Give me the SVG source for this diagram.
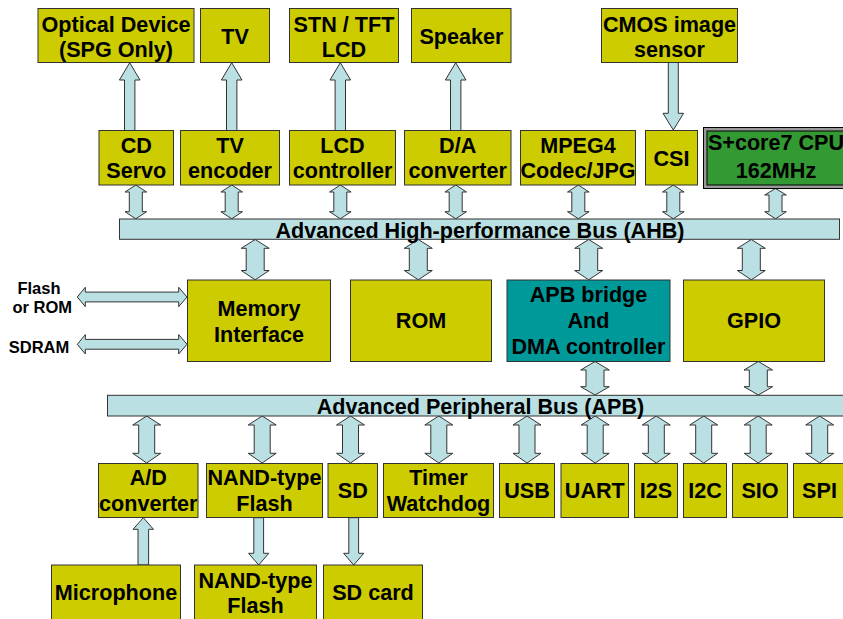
<svg xmlns="http://www.w3.org/2000/svg" width="843" height="619" viewBox="0 0 843 619">
<style>
.b{fill:#CCCC00;stroke:#333;stroke-width:1}
.t{font-family:"Liberation Sans",Arial,sans-serif;font-weight:bold;font-size:21.6px;fill:#000;text-anchor:middle}
.s{font-family:"Liberation Sans",Arial,sans-serif;font-weight:bold;font-size:16.5px;fill:#000;text-anchor:middle}
.bus{fill:#BBE0E3;stroke:#333;stroke-width:1}
.bt{font-family:"Liberation Sans",Arial,sans-serif;font-weight:bold;font-size:21.6px;fill:#000;text-anchor:middle}
.a{fill:#BBE0E3;stroke:#333;stroke-width:1;stroke-linejoin:miter}
</style>
<rect width="843" height="619" fill="#fff"/>

<g id="connectors">
<path class="a" d="M129.7 62.7 L140 80 L134.9 80 L134.9 130.5 L124.5 130.5 L124.5 80 L119.4 80 Z"/>
<path class="a" d="M231.7 62.7 L242 80 L236.9 80 L236.9 130.5 L226.5 130.5 L226.5 80 L221.4 80 Z"/>
<path class="a" d="M340.3 62.7 L350.6 80 L345.5 80 L345.5 130.5 L335.1 130.5 L335.1 80 L330 80 Z"/>
<path class="a" d="M455.7 62.7 L466 80 L460.9 80 L460.9 130.5 L450.5 130.5 L450.5 80 L445.4 80 Z"/>
<path class="a" d="M668.3 62.5 L678.3 62.5 L678.3 113.3 L683.6 113.3 L673.3 130 L663 113.3 L668.3 113.3 Z"/>
<path class="a" d="M135.8 185 L146.6 192 L142.3 192 L142.3 211.7 L146.6 211.7 L135.8 218.8 L125 211.7 L129.3 211.7 L129.3 192 L125 192 Z"/>
<path class="a" d="M231.7 185 L242.5 192 L238.2 192 L238.2 211.7 L242.5 211.7 L231.7 218.8 L220.9 211.7 L225.2 211.7 L225.2 192 L220.9 192 Z"/>
<path class="a" d="M340.3 185 L351.1 192 L346.8 192 L346.8 211.7 L351.1 211.7 L340.3 218.8 L329.5 211.7 L333.8 211.7 L333.8 192 L329.5 192 Z"/>
<path class="a" d="M455.7 185 L466.5 192 L462.2 192 L462.2 211.7 L466.5 211.7 L455.7 218.8 L444.9 211.7 L449.2 211.7 L449.2 192 L444.9 192 Z"/>
<path class="a" d="M578.3 185 L589.1 192 L584.8 192 L584.8 211.7 L589.1 211.7 L578.3 218.8 L567.5 211.7 L571.8 211.7 L571.8 192 L567.5 192 Z"/>
<path class="a" d="M673.3 185 L684.1 192 L679.8 192 L679.8 211.7 L684.1 211.7 L673.3 218.8 L662.5 211.7 L666.8 211.7 L666.8 192 L662.5 192 Z"/>
<path class="a" d="M775.5 188.5 L786.3 195 L782 195 L782 211.7 L786.3 211.7 L775.5 218.8 L764.7 211.7 L769 211.7 L769 195 L764.7 195 Z"/>
<path class="a" d="M255.2 239.5 L269.2 248.3 L264.2 248.3 L264.2 270.5 L269.2 270.5 L255.2 279.8 L241.2 270.5 L246.2 270.5 L246.2 248.3 L241.2 248.3 Z"/>
<path class="a" d="M418.3 239.5 L432.3 248.3 L427.3 248.3 L427.3 270.5 L432.3 270.5 L418.3 279.8 L404.3 270.5 L409.3 270.5 L409.3 248.3 L404.3 248.3 Z"/>
<path class="a" d="M588.7 239.5 L602.7 248.3 L597.7 248.3 L597.7 270.5 L602.7 270.5 L588.7 279.8 L574.7 270.5 L579.7 270.5 L579.7 248.3 L574.7 248.3 Z"/>
<path class="a" d="M751.3 239.5 L765.3 248.3 L760.3 248.3 L760.3 270.5 L765.3 270.5 L751.3 279.8 L737.3 270.5 L742.3 270.5 L742.3 248.3 L737.3 248.3 Z"/>
<path class="a" d="M77.3 297 L85.3 287.3 L85.3 292.1 L178.7 292.1 L178.7 287.3 L187 297 L178.7 306.7 L178.7 301.9 L85.3 301.9 L85.3 306.7 Z"/>
<path class="a" d="M77.3 344.3 L85.3 334.6 L85.3 339.4 L178.7 339.4 L178.7 334.6 L187 344.3 L178.7 354 L178.7 349.2 L85.3 349.2 L85.3 354 Z"/>
<path class="a" d="M595 361.5 L609.3 370 L604 370 L604 386.7 L609.3 386.7 L595 395 L580.7 386.7 L586 386.7 L586 370 L580.7 370 Z"/>
<path class="a" d="M758.3 361.5 L772.6 370 L767.3 370 L767.3 386.7 L772.6 386.7 L758.3 395 L744 386.7 L749.3 386.7 L749.3 370 L744 370 Z"/>
<path class="a" d="M146.7 416 L160.7 425 L154.7 425 L154.7 453.3 L160.7 453.3 L146.7 463 L132.7 453.3 L138.7 453.3 L138.7 425 L132.7 425 Z"/>
<path class="a" d="M262.2 416 L276.2 425 L270.2 425 L270.2 453.3 L276.2 453.3 L262.2 463 L248.2 453.3 L254.2 453.3 L254.2 425 L248.2 425 Z"/>
<path class="a" d="M350.5 416 L364.5 425 L358.5 425 L358.5 453.3 L364.5 453.3 L350.5 463 L336.5 453.3 L342.5 453.3 L342.5 425 L336.5 425 Z"/>
<path class="a" d="M438.8 416 L452.8 425 L446.8 425 L446.8 453.3 L452.8 453.3 L438.8 463 L424.8 453.3 L430.8 453.3 L430.8 425 L424.8 425 Z"/>
<path class="a" d="M527 416 L541 425 L535 425 L535 453.3 L541 453.3 L527 463 L513 453.3 L519 453.3 L519 425 L513 425 Z"/>
<path class="a" d="M595.2 416 L609.2 425 L603.2 425 L603.2 453.3 L609.2 453.3 L595.2 463 L581.2 453.3 L587.2 453.3 L587.2 425 L581.2 425 Z"/>
<path class="a" d="M656.3 416 L670.3 425 L664.3 425 L664.3 453.3 L670.3 453.3 L656.3 463 L642.3 453.3 L648.3 453.3 L648.3 425 L642.3 425 Z"/>
<path class="a" d="M703.7 416 L717.7 425 L711.7 425 L711.7 453.3 L717.7 453.3 L703.7 463 L689.7 453.3 L695.7 453.3 L695.7 425 L689.7 425 Z"/>
<path class="a" d="M758.2 416 L772.2 425 L766.2 425 L766.2 453.3 L772.2 453.3 L758.2 463 L744.2 453.3 L750.2 453.3 L750.2 425 L744.2 425 Z"/>
<path class="a" d="M819.7 416 L833.7 425 L827.7 425 L827.7 453.3 L833.7 453.3 L819.7 463 L805.7 453.3 L811.7 453.3 L811.7 425 L805.7 425 Z"/>
<path class="a" d="M143.3 517.7 L153.5 529.3 L148.6 529.3 L148.6 565 L138 565 L138 529.3 L133.1 529.3 Z"/>
<path class="a" d="M253.8 517.7 L263.6 517.7 L263.6 553.3 L268.8 553.3 L258.7 565 L248.6 553.3 L253.8 553.3 Z"/>
<path class="a" d="M348.8 517.7 L358.6 517.7 L358.6 553.3 L363.8 553.3 L353.7 565 L343.6 553.3 L348.8 553.3 Z"/>
</g>

<g id="ahb"><rect class="bus" x="119.5" y="219" width="720" height="20.3"/><text class="bt" x="480" y="237.7">Advanced High-performance Bus (AHB)</text></g>
<g id="apb"><rect class="bus" x="107.5" y="395.3" width="750" height="20.7"/><text class="bt" x="480.5" y="413.7">Advanced Peripheral Bus (APB)</text></g>

<g id="optical"><rect class="b" x="38" y="8.5" width="156" height="54"/><text class="t" x="116" y="31.7">Optical Device</text><text class="t" x="116" y="56.7">(SPG Only)</text></g>
<g id="tv"><rect class="b" x="200.5" y="8.5" width="69" height="54"/><text class="t" x="235" y="44.3">TV</text></g>
<g id="lcd"><rect class="b" x="289.5" y="8.5" width="109" height="54"/><text class="t" x="344" y="31.7">STN / TFT</text><text class="t" x="344" y="56.7">LCD</text></g>
<g id="speaker"><rect class="b" x="411.5" y="8.5" width="99.5" height="54"/><text class="t" x="461.5" y="44.3">Speaker</text></g>
<g id="cmos"><rect class="b" x="601.5" y="8.5" width="136" height="54"/><text class="t" x="669.5" y="31.7">CMOS image</text><text class="t" x="669.5" y="56.7">sensor</text></g>

<g id="cdservo"><rect class="b" x="99" y="130.5" width="74.5" height="54.5"/><text class="t" x="136.3" y="152.7">CD</text><text class="t" x="136.3" y="178.3">Servo</text></g>
<g id="tvenc"><rect class="b" x="180.5" y="130.5" width="99" height="54.5"/><text class="t" x="230" y="152.7">TV</text><text class="t" x="230" y="178.3">encoder</text></g>
<g id="lcdc"><rect class="b" x="289.5" y="130.5" width="106" height="54.5"/><text class="t" x="342.5" y="152.7">LCD</text><text class="t" x="342.5" y="178.3">controller</text></g>
<g id="da"><rect class="b" x="404.5" y="130.5" width="106.5" height="54.5"/><text class="t" x="457.7" y="152.7">D/A</text><text class="t" x="457.7" y="178.3">converter</text></g>
<g id="mpeg"><rect class="b" x="520.5" y="130.5" width="115" height="54.5"/><text class="t" x="578" y="152.7">MPEG4</text><text class="t" x="578" y="178.3">Codec/JPG</text></g>
<g id="csi"><rect class="b" x="645.5" y="130.5" width="52" height="54.5"/><text class="t" x="671.5" y="165.7">CSI</text></g>
<g id="cpu"><rect x="703.5" y="127.5" width="150" height="61" fill="#999" stroke="#000" stroke-width="1"/><rect x="707" y="131" width="143" height="54" fill="#339933" stroke="#000" stroke-width="1"/><text class="t" x="776" y="150">S+core7 CPU</text><text class="t" x="776" y="178">162MHz</text></g>

<g id="flashlbl"><text class="s" x="39" y="294.3">Flash</text><text class="s" x="42.3" y="313.3">or ROM</text></g>
<g id="sdramlbl"><text class="s" x="39" y="352.7">SDRAM</text></g>

<g id="mem"><rect class="b" x="187.5" y="280" width="143" height="81.5"/><text class="t" x="259" y="315.7">Memory</text><text class="t" x="259" y="341.7">Interface</text></g>
<g id="rom"><rect class="b" x="350.5" y="280" width="141" height="81.5"/><text class="t" x="421" y="328.3">ROM</text></g>
<g id="apbbridge"><rect x="507" y="280" width="163" height="81.5" fill="#009999" stroke="#333" stroke-width="1"/><text class="t" x="588.5" y="301.7">APB bridge</text><text class="t" x="588.5" y="328.3">And</text><text class="t" x="588.5" y="354">DMA controller</text></g>
<g id="gpio"><rect class="b" x="683.5" y="280" width="141" height="81.5"/><text class="t" x="754" y="328.3">GPIO</text></g>

<g id="ad"><rect class="b" x="98.5" y="463.5" width="99.5" height="54"/><text class="t" x="148.3" y="485">A/D</text><text class="t" x="148.3" y="510.7">converter</text></g>
<g id="nand"><rect class="b" x="206.5" y="463.5" width="116" height="54"/><text class="t" x="264.5" y="485">NAND-type</text><text class="t" x="264.5" y="510.7">Flash</text></g>
<g id="sd"><rect class="b" x="328" y="463.5" width="49.5" height="54"/><text class="t" x="352.8" y="498.3">SD</text></g>
<g id="timer"><rect class="b" x="383.5" y="463.5" width="110" height="54"/><text class="t" x="438.5" y="485">Timer</text><text class="t" x="438.5" y="510.7">Watchdog</text></g>
<g id="usb"><rect class="b" x="499.5" y="463.5" width="55" height="54"/><text class="t" x="527" y="498.3">USB</text></g>
<g id="uart"><rect class="b" x="561" y="463.5" width="67.5" height="54"/><text class="t" x="594.8" y="498.3">UART</text></g>
<g id="i2s"><rect class="b" x="634.5" y="463.5" width="43" height="54"/><text class="t" x="656" y="498.3">I2S</text></g>
<g id="i2c"><rect class="b" x="683.5" y="463.5" width="43" height="54"/><text class="t" x="705" y="498.3">I2C</text></g>
<g id="sio"><rect class="b" x="732.5" y="463.5" width="55" height="54"/><text class="t" x="760" y="498.3">SIO</text></g>
<g id="spi"><rect class="b" x="793.5" y="463.5" width="55" height="54"/><text class="t" x="819.5" y="498.3">SPI</text></g>

<g id="mic"><rect class="b" x="51.5" y="565" width="129" height="60"/><text class="t" x="116" y="600">Microphone</text></g>
<g id="nand2"><rect class="b" x="194.5" y="565" width="122" height="60"/><text class="t" x="255.5" y="588.3">NAND-type</text><text class="t" x="255.5" y="613.3">Flash</text></g>
<g id="sdcard"><rect class="b" x="323.5" y="565" width="99" height="60"/><text class="t" x="373" y="600">SD card</text></g>
</svg>
